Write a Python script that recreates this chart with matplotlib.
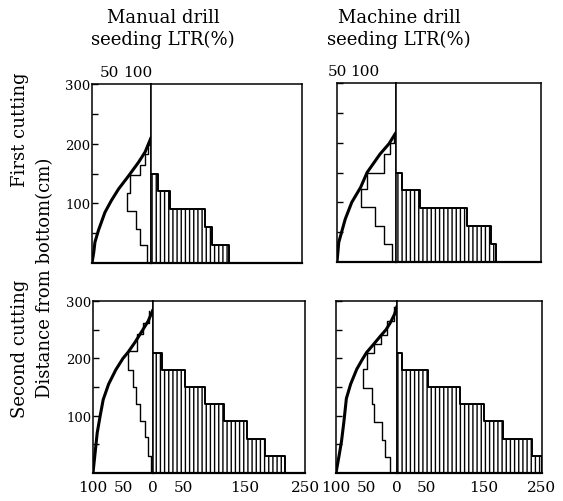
import numpy as np
import matplotlib
matplotlib.use("Agg")
import matplotlib.pyplot as plt

plt.rcParams['font.family'] = ['DejaVu Serif']
plt.rcParams['hatch.linewidth'] = 1.0

W, H = 563, 502

# right part: hatched bars, distance from bottom (cm) bands
bar_edges_first = [0, 30, 60, 90, 120, 150]
bars_manual_first = [129, 101, 90, 32, 12]
bars_machine_first = [172, 163, 122, 42, 10]
bar_edges_second = [0, 30, 60, 90, 120, 150, 180, 210]
bars_manual_second = [217, 184, 154, 117, 86, 53, 14]
bars_machine_second = [250, 233, 182, 150, 108, 53, 9]

# left part: thin staircase (LTR %)
step_edges_tl = [0, 30, 57, 87, 118, 147, 165, 182, 198, 208]
step_vals_tl = [7, 18, 26, 41, 35, 18, 11, 5, 2]
step_edges_tr = [0, 30, 61, 92, 122, 150, 181, 200, 215]
step_vals_tr = [7, 21, 35, 59, 49, 21, 10, 3]
step_edges_bl = [0, 30, 62, 90, 120, 150, 180, 212, 242, 262, 282]
step_vals_bl = [4, 8, 14, 22, 28, 34, 41, 27, 17, 6]
step_edges_br = [0, 28, 57, 89, 120, 149, 181, 210, 225, 240, 265, 290]
step_vals_br = [12, 19, 25, 38, 41, 55, 50, 38, 27, 16, 5]

# left part: thick curve (LTR %, height)
curve_v_tl = [100, 97, 95, 89, 78, 67, 55, 38, 21, 10, 2, 0]
curve_h_tl = [0, 18, 35, 55, 85, 105, 124, 146, 169, 186, 205, 210]
curve_v_tr = [100, 97, 86, 75, 60, 49, 27, 12, 0]
curve_h_tr = [0, 33, 72, 100, 125, 150, 181, 198, 217]
curve_v_bl = [100, 97, 93, 88, 83, 74, 62, 50, 42, 30, 18, 8, 0]
curve_h_bl = [0, 30, 70, 100, 128, 155, 180, 200, 210, 228, 248, 265, 285]
curve_v_br = [100, 95, 91, 87, 83, 76, 66, 58, 50, 38, 27, 18, 11, 4, 0]
curve_h_br = [0, 30, 55, 90, 130, 155, 181, 196, 210, 225, 239, 250, 262, 277, 291]

col_titles = ["Manual drill\nseeding LTR(%)", "Machine drill\nseeding LTR(%)"]
row_titles = ["First cutting", "Second cutting"]


def rect(x0, x1, y0, y1):
    return [x0 / W, 1 - y1 / H, (x1 - x0) / W, (y1 - y0) / H]


def stairs(edges, vals):
    # vertical-step outline: value held over each height band
    y = np.repeat(edges, 2)[1:-1]
    x = np.repeat(vals, 2)
    return x, y


fig = plt.figure(figsize=(W / 100, H / 100), dpi=100)

panels = [
    # (left x0, divider, right x1, top y, bottom y, data..., row, col)
    (92, 151, 302, 85, 264, bar_edges_first, bars_manual_first,
     step_edges_tl, step_vals_tl, curve_v_tl, curve_h_tl, 0, 0),
    (337, 396, 541, 84, 263, bar_edges_first, bars_machine_first,
     step_edges_tr, step_vals_tr, curve_v_tr, curve_h_tr, 0, 1),
    (93, 153, 305, 302, 474, bar_edges_second, bars_manual_second,
     step_edges_bl, step_vals_bl, curve_v_bl, curve_h_bl, 1, 0),
    (336, 397, 542, 302, 474, bar_edges_second, bars_machine_second,
     step_edges_br, step_vals_br, curve_v_br, curve_h_br, 1, 1),
]

for (x0, xd, x1, yt, yb, bedges, bvals, sedges, svals,
     cv, ch, row, col) in panels:
    axl = fig.add_axes(rect(x0, xd, yt, yb))
    axr = fig.add_axes(rect(xd, x1, yt, yb))

    # LTR side
    sx, sy = stairs(sedges, svals)
    axl.plot(sx, sy, color='black', lw=1.0)
    axl.plot(cv, ch, color='black', lw=2.2, solid_capstyle='round')
    axl.set_xlim(100, 0)
    axl.set_ylim(0, 300)
    axl.set_yticks([50, 100, 150, 200, 250, 300])
    axl.tick_params(axis='y', direction='in', length=4, width=1,
                    labelsize=9.5, pad=1)
    if col == 0:
        axl.set_yticklabels(['', '100', '', '200', '', '300'])
    else:
        axl.set_yticklabels([])

    # bars side: hatch only, then the stepped outline
    b = np.array(bedges)
    axr.barh(b[:-1], bvals, height=np.diff(b), align='edge', left=0,
             fill=False, hatch='||||', edgecolor='black', lw=0)
    bx, by = stairs(bedges, bvals)
    axr.plot(np.append(bx, 0), np.append(by, b[-1]), color='black', lw=1.4)
    axr.set_xlim(0, 250)
    axr.set_ylim(0, 300)
    axr.set_yticks([])

    for ax in (axl, axr):
        for s in ax.spines.values():
            s.set_linewidth(1.1)
        ax.spines['bottom'].set_linewidth(1.6)

    if row == 1:
        axl.set_xticks([100, 50])
        axl.set_xticklabels(['100', '50'])
        axr.set_xticks([0, 50, 150, 250])
        axr.set_xticklabels(['0', '50', '150', '250'])
        for ax in (axl, axr):
            ax.tick_params(axis='x', length=0, labelsize=11, pad=5)
    else:
        axl.set_xticks([])
        axr.set_xticks([])
        if col == 0:
            pos = [(109 - x0) / (xd - x0), (138 - x0) / (xd - x0)]
        else:
            pos = [(337 - x0) / (xd - x0), (365 - x0) / (xd - x0)]
        for p, t in zip(pos, ['50', '100']):
            axl.text(p, 1.03, t, transform=axl.transAxes, ha='center',
                     va='bottom', fontsize=11)

fig.text(163 / W, 1 - 29 / H, col_titles[0], ha='center', va='center',
         fontsize=13, linespacing=1.25)
fig.text(399 / W, 1 - 29 / H, col_titles[1], ha='center', va='center',
         fontsize=13, linespacing=1.25)
fig.text(20 / W, 1 - 130 / H, row_titles[0], rotation=90, ha='center',
         va='center', fontsize=13)
fig.text(20 / W, 1 - 349 / H, row_titles[1], rotation=90, ha='center',
         va='center', fontsize=13)
fig.text(45 / W, 1 - 278 / H, "Distance from bottom(cm)", rotation=90,
         ha='center', va='center', fontsize=13)

fig.savefig("out.png", dpi=100)
